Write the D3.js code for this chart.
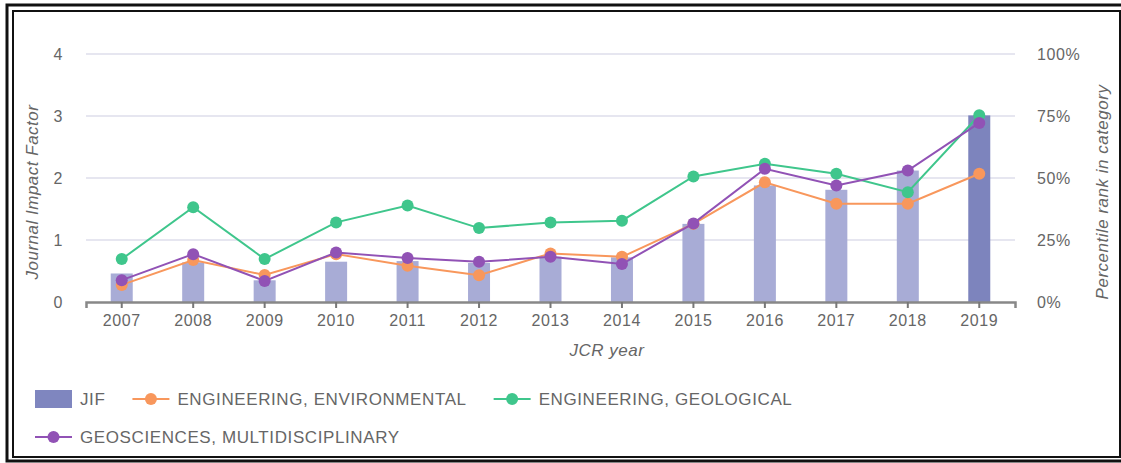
<!DOCTYPE html>
<html>
<head>
<meta charset="utf-8">
<script src="https://cdn.jsdelivr.net/npm/d3@7"></script>
<style>
  body { margin:0; background:#fff; }
  text { font-family: "Liberation Sans", Arial, sans-serif; fill:#666; }
</style>
</head>
<body>
<div id="container"></div>
<script>
// datos
const years = [2007,2008,2009,2010,2011,2012,2013,2014,2015,2016,2017,2018,2019];
const jif = [0.46,0.64,0.35,0.65,0.66,0.63,0.73,0.72,1.26,1.88,1.81,2.12,3.01];
const envPct = [6.9,16.9,10.9,19.3,14.6,10.8,19.6,18.2,31.5,48.3,39.6,39.6,51.7];
const geoPct = [17.3,38.2,17.3,32.1,38.9,29.8,32.1,32.8,50.6,55.7,51.7,44.3,75.3];
const geosciPct = [8.8,19.3,8.5,20.0,17.7,16.2,18.2,15.3,31.7,53.7,47.0,53.0,72.2];
const seriesNames = ["ENGINEERING, ENVIRONMENTAL","ENGINEERING, GEOLOGICAL","GEOSCIENCES, MULTIDISCIPLINARY"];
const jifTicks = [0,1,2,3,4];
const pctTicks = [0,25,50,75,100];
const currentYear = 2019;

const width = 1121, height = 463;
const colors = ["#f8975c","#3fc68c","#9152b5"];
const series = [envPct, geoPct, geosciPct].map((vals,i)=>({
  name: seriesNames[i],
  color: colors[i],
  values: vals.map((v,j)=>({year: years[j], v: v}))
}));

const svg = d3.select("#container")
  .append("svg")
    .attr("width", width)
    .attr("height", height);

// marco doble
svg.append("rect")
    .attr("x",7).attr("y",5).attr("width",1122).attr("height",456)
    .attr("fill","none").attr("stroke","#111").attr("stroke-width",3);
svg.append("rect")
    .attr("x",13).attr("y",11).attr("width",1107).attr("height",446)
    .attr("fill","none").attr("stroke","#111").attr("stroke-width",2);

const x = d3.scaleBand()
  .domain(years)
  .range([86, 1015]);
const y = d3.scaleLinear()
  .domain([0,4])
  .range([302, 54]);
const yPct = d3.scaleLinear()
  .domain([0,100])
  .range([302, 54]);

// grid
svg.append("g")
  .selectAll("line")
  .data(jifTicks.filter(d=>d>0))
  .join("line")
    .attr("x1",86).attr("x2",1015)
    .attr("y1",d=>y(d)).attr("y2",d=>y(d))
    .attr("stroke","#e6e6f0")
    .attr("stroke-width",2);

// eje izquierdo
const yAxis = svg.append("g")
    .attr("transform","translate(70,0)")
    .call(d3.axisLeft(y).tickValues(jifTicks).tickFormat(d3.format("d")).tickSize(0).tickPadding(7));
yAxis.select(".domain").remove();
yAxis.selectAll("text")
    .style("font-size","16px")
    .style("letter-spacing","0.6px")
    .attr("fill","#666");

// eje derecho
const yAxisR = svg.append("g")
    .attr("transform","translate(1030,0)")
    .call(d3.axisRight(yPct).tickValues(pctTicks).tickFormat(d=>d+"%").tickSize(0).tickPadding(7));
yAxisR.select(".domain").remove();
yAxisR.selectAll("text")
    .style("font-size","16px")
    .style("letter-spacing","0.6px")
    .attr("fill","#666");

// barras JIF
const barW = 22;
svg.append("g")
  .selectAll("rect")
  .data(years.map((yr,i)=>({year:yr, v:jif[i]})))
  .join("rect")
    .attr("x",d=>x(d.year)+x.bandwidth()/2-barW/2)
    .attr("y",d=>y(d.v))
    .attr("width",barW)
    .attr("height",d=>y(0)-y(d.v))
    .attr("fill",d=>d.year===currentYear ? "#7d84bd" : "#a8acd6");

// eje x
const xAxis = svg.append("g")
    .attr("transform","translate(0,302)")
    .call(d3.axisBottom(x).tickSize(6).tickPadding(7));
xAxis.select(".domain")
    .attr("stroke","#888")
    .attr("stroke-width",2.5);
xAxis.selectAll(".tick line")
    .attr("stroke","#777")
    .attr("stroke-width",2);
xAxis.selectAll("text")
    .style("font-size","16px")
    .style("letter-spacing","0.6px")
    .attr("fill","#666");

// lineas de percentil
const line = d3.line()
  .x(d=>x(d.year)+x.bandwidth()/2)
  .y(d=>yPct(d.v));
const sg = svg.append("g")
  .selectAll("g")
  .data(series)
  .join("g");
sg.append("path")
    .attr("d",d=>line(d.values))
    .attr("fill","none")
    .attr("stroke",d=>d.color)
    .attr("stroke-width",2);
sg.selectAll("circle")
  .data(d=>d.values.map(p=>({...p,color:d.color})))
  .join("circle")
    .attr("cx",d=>x(d.year)+x.bandwidth()/2)
    .attr("cy",d=>yPct(d.v))
    .attr("r",6)
    .attr("fill",d=>d.color);

// titulos
svg.append("text")
    .attr("x",607).attr("y",356)
    .attr("text-anchor","middle")
    .style("font-size","17px")
    .style("font-style","italic")
    .style("letter-spacing","0.5px")
    .text("JCR year");
svg.append("text")
    .attr("transform","translate(38,192) rotate(-90)")
    .attr("text-anchor","middle")
    .style("font-size","17px")
    .style("font-style","italic")
    .style("letter-spacing","0.5px")
    .text("Journal Impact Factor");
svg.append("text")
    .attr("transform","translate(1108,192) rotate(-90)")
    .attr("text-anchor","middle")
    .style("font-size","17px")
    .style("font-style","italic")
    .style("letter-spacing","0.5px")
    .text("Percentile rank in category");

// leyenda
const legendItems = [{name:"JIF", color:"#7f86bf", bar:true}]
  .concat(series.map(s=>({name:s.name, color:s.color, bar:false})));
let lx = 35, ly = 399;
legendItems.forEach(function(it){
  const g = svg.append("g");
  const t = g.append("text")
      .attr("y",ly+6)
      .style("font-size","17px")
      .style("letter-spacing","0.6px")
      .attr("fill","#666")
      .text(it.name);
  const tw = t.node().getComputedTextLength();
  if(lx+45+tw > 1015){ lx = 35; ly += 38; t.attr("y",ly+6); }
  t.attr("x",lx+45);
  if(it.bar){
    g.append("rect")
        .attr("x",lx).attr("y",ly-9)
        .attr("width",37).attr("height",18)
        .attr("fill",it.color);
  } else {
    g.append("line")
        .attr("x1",lx).attr("x2",lx+37)
        .attr("y1",ly).attr("y2",ly)
        .attr("stroke",it.color).attr("stroke-width",2);
    g.append("circle")
        .attr("cx",lx+18.5).attr("cy",ly).attr("r",6)
        .attr("fill",it.color);
  }
  lx += 45+tw+27;
});
</script>
</body>
</html>
